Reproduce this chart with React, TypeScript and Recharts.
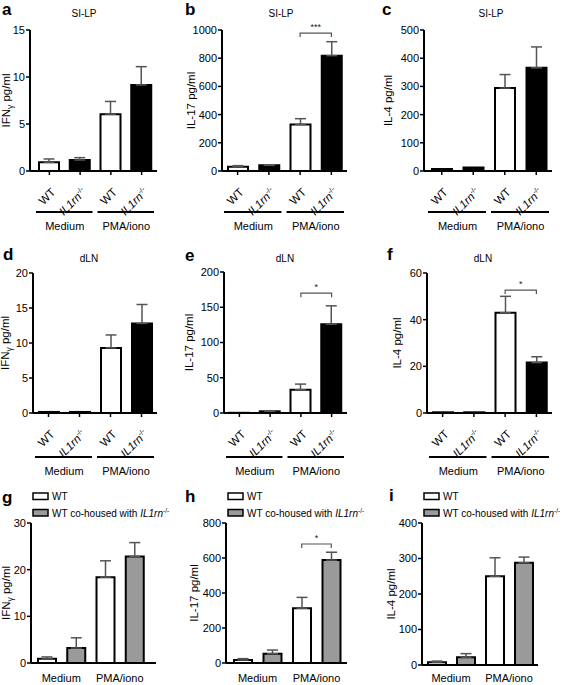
import React from 'react';
import { BarChart, Bar, XAxis, YAxis, ErrorBar, Cell, ReferenceLine } from 'recharts';

const FONT = '"Liberation Sans", Arial, Helvetica, sans-serif';

// ---------- categories & labels ----------
const KO_CATEGORIES = ['Medium WT', 'Medium IL1rn-/-', 'PMA/iono WT', 'PMA/iono IL1rn-/-'];
const KO_TICK_LABELS = ['WT', 'IL1rn', 'WT', 'IL1rn'];
const COHOUSED_CATEGORIES = ['Medium WT', 'Medium WT co-housed', 'PMA/iono WT', 'PMA/iono WT co-housed'];
const GROUP_LABELS = ['Medium', 'PMA/iono'];
const KO_FILLS = ['#ffffff', '#000000', '#ffffff', '#000000'];
const COHOUSED_FILLS = ['#ffffff', '#9a9a9a', '#ffffff', '#9a9a9a'];

// ---------- values (mean, SEM) ----------
const A_MEAN = [0.92, 1.17, 6.05, 9.15];
const A_SEM = [0.36, 0.25, 1.35, 1.95];
const A_TICKS = [0, 5, 10, 15];

const B_MEAN = [30, 40, 330, 818];
const B_SEM = [8, 4, 41, 99];
const B_TICKS = [0, 200, 400, 600, 800, 1000];

const C_MEAN = [7, 12, 294, 366];
const C_SEM = [0, 0, 48, 74];
const C_TICKS = [0, 100, 200, 300, 400, 500];

const D_MEAN = [0.15, 0.15, 9.3, 12.8];
const D_SEM = [0, 0, 1.85, 2.7];
const D_TICKS = [0, 5, 10, 15, 20];

const E_MEAN = [0.3, 2.4, 33, 126];
const E_SEM = [0, 0.4, 8, 26];
const E_TICKS = [0, 50, 100, 150, 200];

const F_MEAN = [0.3, 0.3, 43, 21.6];
const F_SEM = [0, 0, 7, 2.5];
const F_TICKS = [0, 20, 40, 60];

const G_MEAN = [0.9, 3.2, 18.4, 22.8];
const G_SEM = [0.4, 2.2, 3.5, 3.0];
const G_TICKS = [0, 10, 20, 30];

const H_MEAN = [17, 53, 313, 588];
const H_SEM = [8, 21, 62, 45];
const H_TICKS = [0, 200, 400, 600, 800];

const I_MEAN = [8, 22, 250, 288];
const I_SEM = [3, 10, 52, 16];
const I_TICKS = [0, 100, 200, 300, 400];

// ---------- panel layout ----------
type Panel = {
  id: string; kind: 'ko' | 'co'; title?: string;
  yMain: string; ySub?: string; yRest: string;
  means: number[]; sems: number[]; ticks: number[];
  x0: number; y0: number; w: number; h: number;
  axisX: number; top: number; bottom: number; right: number; padL: number; padR: number;
  labelX: number; titleX?: number; titleY?: number; letterX: number; letterY: number;
  bracket?: { from: number; to: number; y: number; text: string };
  lineDy?: number; labelDy?: number;
};

const PANELS: Panel[] = [
  { id: 'a', kind: 'ko', title: 'SI-LP', yMain: 'IFN', ySub: 'γ', yRest: ' pg/ml', means: A_MEAN, sems: A_SEM, ticks: A_TICKS,
    x0: 0, y0: 0, w: 185, h: 235, axisX: 30, top: 30, bottom: 171, right: 157, padL: 4, padR: 0,
    labelX: 10, titleX: 84, titleY: 17, letterX: 2, letterY: 15, lineDy: 35, labelDy: 53 },
  { id: 'b', kind: 'ko', title: 'SI-LP', yMain: 'IL-17', yRest: ' pg/ml', means: B_MEAN, sems: B_SEM, ticks: B_TICKS,
    x0: 178, y0: 0, w: 197, h: 235, axisX: 222, top: 30, bottom: 171, right: 347, padL: 0, padR: 0,
    labelX: 195, titleX: 281, titleY: 17, letterX: 185, letterY: 15, lineDy: 35, labelDy: 53,
    bracket: { from: 2, to: 3, y: 978, text: '***' } },
  { id: 'c', kind: 'ko', title: 'SI-LP', yMain: 'IL-4', yRest: ' pg/ml', means: C_MEAN, sems: C_SEM, ticks: C_TICKS,
    x0: 368, y0: 0, w: 197, h: 235, axisX: 424, top: 30, bottom: 171, right: 552, padL: 2, padR: 0,
    labelX: 392, titleX: 491, titleY: 17, letterX: 382, letterY: 15, lineDy: 35, labelDy: 53 },
  { id: 'd', kind: 'ko', title: 'dLN', yMain: 'IFN', ySub: 'γ', yRest: ' pg/ml', means: D_MEAN, sems: D_SEM, ticks: D_TICKS,
    x0: 0, y0: 235, w: 185, h: 245, axisX: 33, top: 273, bottom: 413, right: 157, padL: 0, padR: 0,
    labelX: 9, titleX: 89, titleY: 262, letterX: 3, letterY: 260, lineDy: 38, labelDy: 56 },
  { id: 'e', kind: 'ko', title: 'dLN', yMain: 'IL-17', yRest: ' pg/ml', means: E_MEAN, sems: E_SEM, ticks: E_TICKS,
    x0: 178, y0: 235, w: 197, h: 245, axisX: 224, top: 272, bottom: 413, right: 347, padL: 0, padR: 0,
    labelX: 193, titleX: 285, titleY: 262, letterX: 185, letterY: 261, lineDy: 38, labelDy: 56,
    bracket: { from: 2, to: 3, y: 170, text: '*' } },
  { id: 'f', kind: 'ko', title: 'dLN', yMain: 'IL-4', yRest: ' pg/ml', means: F_MEAN, sems: F_SEM, ticks: F_TICKS,
    x0: 368, y0: 235, w: 197, h: 245, axisX: 427, top: 273, bottom: 413, right: 552, padL: 0, padR: 0,
    labelX: 401, titleX: 483, titleY: 262, letterX: 387, letterY: 260, lineDy: 38, labelDy: 56,
    bracket: { from: 2, to: 3, y: 52.7, text: '*' } },
  { id: 'g', kind: 'co', yMain: 'IFN', ySub: 'γ', yRest: ' pg/ml', means: G_MEAN, sems: G_SEM, ticks: G_TICKS,
    x0: 0, y0: 480, w: 185, h: 205, axisX: 31, top: 523, bottom: 663, right: 156, padL: 1, padR: 7,
    labelX: 10, letterX: 2, letterY: 503, labelDy: 19 },
  { id: 'h', kind: 'co', yMain: 'IL-17', yRest: ' pg/ml', means: H_MEAN, sems: H_SEM, ticks: H_TICKS,
    x0: 178, y0: 480, w: 197, h: 205, axisX: 226, top: 523, bottom: 663, right: 347, padL: 2, padR: 1,
    labelX: 198, letterX: 185, letterY: 502, labelDy: 19,
    bracket: { from: 2, to: 3, y: 680, text: '*' } },
  { id: 'i', kind: 'co', yMain: 'IL-4', yRest: ' pg/ml', means: I_MEAN, sems: I_SEM, ticks: I_TICKS,
    x0: 368, y0: 480, w: 197, h: 205, axisX: 422, top: 523, bottom: 665, right: 538, padL: 0, padR: 0,
    labelX: 395, letterX: 389, letterY: 501, labelDy: 17 },
];

const bracketShape = (text: string) => (props: any) => {
  const { x1, y1, x2 } = props;
  return (
    <g>
      <path d={`M${x1},${y1 + 4}V${y1}H${x2}V${y1 + 4}`} fill="none" stroke="#555" strokeWidth={1.2} />
      <text x={(x1 + x2) / 2} y={y1 - 3} textAnchor="middle" fontSize={9} fill="#222" fontFamily={FONT}>{text}</text>
    </g>
  );
};

function PanelChart({ p }: { p: Panel }) {
  const cats = p.kind === 'ko' ? KO_CATEGORIES : COHOUSED_CATEGORIES;
  const fills = p.kind === 'ko' ? KO_FILLS : COHOUSED_FILLS;
  const data = cats.map((c, i) => ({
    cat: c,
    value: p.means[i],
    err: p.sems[i] ? [0, p.sems[i]] : undefined,
  }));
  const margin = { top: p.top - p.y0, right: p.x0 + p.w - p.right, bottom: 0, left: 0 };
  const yW = p.axisX - p.x0;
  const xH = p.y0 + p.h - p.bottom;
  const half = (p.right - p.axisX - p.padL - p.padR) / 8;
  const maxY = p.ticks[p.ticks.length - 1];

  const koTick = (props: any) => {
    const { x, y, index } = props;
    const groupStart = index % 2 === 0;
    const lineY = y + (p.lineDy ?? 35);
    const lx1 = groupStart ? x - half + 2 : x - half;
    const lx2 = groupStart ? x + half : x + half - 3;
    const ax = x + 1;
    const ay = y + 10;
    return (
      <g fontFamily={FONT}>
        <text transform={`rotate(-45 ${ax} ${ay})`} x={ax} y={ay} dy="0.72em" textAnchor="end" fontSize={11.5} fill="#000">
          {KO_TICK_LABELS[index] === 'WT' ? (
            'WT'
          ) : (
            <>
              <tspan fontStyle="italic">IL1rn</tspan>
              <tspan fontSize={7} dy={-4.5}>-/-</tspan>
            </>
          )}
        </text>
        <line x1={lx1} x2={lx2} y1={lineY} y2={lineY} stroke="#000" strokeWidth={2} />
        {groupStart && (
          <text x={x + half} y={y + (p.labelDy ?? 53)} textAnchor="middle" fontSize={11} fill="#000">
            {GROUP_LABELS[index / 2]}
          </text>
        )}
      </g>
    );
  };

  const coTick = (props: any) => {
    const { x, y, index } = props;
    if (index % 2 !== 0) return <g />;
    return (
      <text x={x + half} y={y + (p.labelDy ?? 19)} textAnchor="middle" fontSize={11} fill="#000" fontFamily={FONT}>
        {GROUP_LABELS[index / 2]}
      </text>
    );
  };

  const yLabel = (props: any) => {
    const vb = props.viewBox || { y: margin.top, height: p.bottom - p.top };
    const cx = p.labelX - p.x0;
    const cy = vb.y + vb.height / 2;
    return (
      <text transform={`rotate(-90 ${cx} ${cy})`} x={cx} y={cy} textAnchor="middle" fontSize={11.5} fill="#000" fontFamily={FONT}>
        <tspan>{p.yMain}</tspan>
        {p.ySub ? <tspan fontSize={8.5} dy={2.5}>{p.ySub}</tspan> : null}
        <tspan dy={p.ySub ? -2.5 : 0}>{p.yRest}</tspan>
      </text>
    );
  };

  return (
    <div style={{ position: 'absolute', left: p.x0, top: p.y0, width: p.w, height: p.h }}>
      <BarChart width={p.w} height={p.h} data={data} margin={margin} barSize={p.kind === 'ko' ? 20 : 18}>
        <XAxis
          dataKey="cat"
          type="category"
          height={xH}
          padding={{ left: p.padL, right: p.padR }}
          axisLine={{ stroke: '#000', strokeWidth: 2 }}
          tickLine={p.kind === 'ko' ? { stroke: '#000', strokeWidth: 1.5 } : false}
          tickSize={p.kind === 'ko' ? 4 : 0}
          tickMargin={p.kind === 'ko' ? 2 : 0}
          interval={0}
          tick={p.kind === 'ko' ? koTick : coTick}
        />
        <YAxis
          type="number"
          width={yW}
          domain={[0, maxY]}
          ticks={p.ticks}
          interval={0}
          allowDataOverflow
          axisLine={{ stroke: '#000', strokeWidth: 2 }}
          tickLine={{ stroke: '#000', strokeWidth: 1.5 }}
          tickSize={4}
          tickMargin={1}
          tick={{ fontSize: 11, fill: '#000', fontFamily: FONT }}
          label={yLabel}
        />
        <Bar dataKey="value" stroke="#000" strokeWidth={2} isAnimationActive={false}>
          {data.map((d, i) => (
            <Cell key={d.cat} fill={fills[i]} />
          ))}
          <ErrorBar dataKey="err" direction="y" width={5.5} stroke="#555" strokeWidth={1.5} />
        </Bar>
        {p.bracket ? (
          <ReferenceLine
            ifOverflow="visible"
            segment={[
              { x: cats[p.bracket.from], y: p.bracket.y },
              { x: cats[p.bracket.to], y: p.bracket.y },
            ]}
            shape={bracketShape(p.bracket.text)}
          />
        ) : null}
      </BarChart>
    </div>
  );
}

function Overlay() {
  return (
    <svg width={565} height={685} style={{ position: 'absolute', left: 0, top: 0, pointerEvents: 'none' }} fontFamily={FONT}>
      {PANELS.map((p) => (
        <g key={p.id}>
          <text x={p.letterX} y={p.letterY} fontSize={17} fontWeight="bold" fill="#000">{p.id}</text>
          {p.title ? (
            <text x={p.titleX} y={p.titleY} fontSize={10} textAnchor="middle" fill="#000">{p.title}</text>
          ) : null}
          {p.kind === 'co' ? (
            <g>
              <rect x={p.axisX + 2} y={493} width={15} height={6.5} fill={COHOUSED_FILLS[0]} stroke="#000" strokeWidth={1.5} />
              <text x={p.axisX + 21} y={500} fontSize={10} fill="#000">WT</text>
              <rect x={p.axisX + 2} y={509.5} width={15} height={6.5} fill={COHOUSED_FILLS[1]} stroke="#000" strokeWidth={1.5} />
              <text x={p.axisX + 21} y={516.5} fontSize={10} fill="#000">
                WT co-housed with <tspan fontStyle="italic">IL1rn</tspan>
                <tspan fontSize={6.5} dy={-3.5}>-/-</tspan>
              </text>
            </g>
          ) : null}
        </g>
      ))}
    </svg>
  );
}

export default function App() {
  return (
    <div style={{ position: 'absolute', left: 0, top: 0, width: 565, height: 685, background: '#fff', fontFamily: FONT, overflow: 'hidden' }}>
      {PANELS.map((p) => (
        <PanelChart key={p.id} p={p} />
      ))}
      <Overlay />
    </div>
  );
}
